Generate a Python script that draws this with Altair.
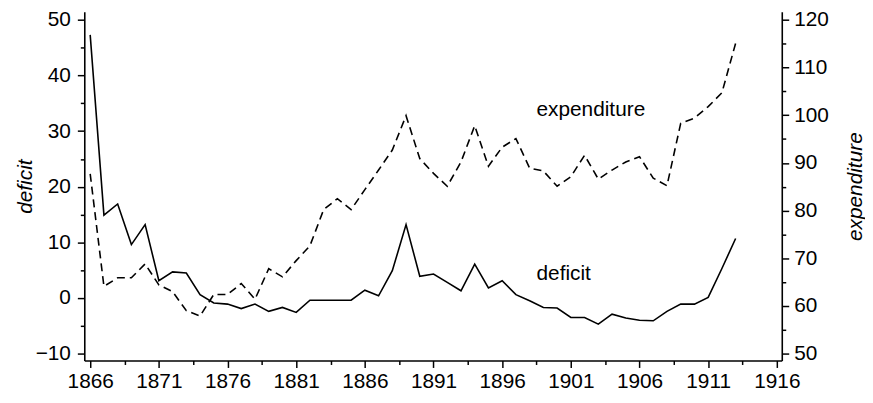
import altair as alt
import pandas as pd

# ---- data ----
years = list(range(1866, 1914))
deficit = [47.3, 14.9, 16.9, 9.6, 13.2, 3.1, 4.7, 4.5, 0.6, -0.9,
           -1.1, -1.9, -1.1, -2.4, -1.7, -2.6, -0.4, -0.4, -0.4, -0.4,
           1.4, 0.4, 4.9, 13.2, 3.9, 4.3, 2.8, 1.3, 6.1, 1.8,
           3.1, 0.6, -0.5, -1.7, -1.8, -3.5, -3.5, -4.7, -2.9, -3.6,
           -4.0, -4.1, -2.4, -1.1, -1.1, 0.1, 5.3, 10.7]
expenditure = [87.7, 64.1, 65.9, 65.9, 68.8, 64.4, 63.0, 59.0, 57.9, 62.4,
               62.4, 64.7, 61.4, 67.8, 66.1, 69.5, 72.6, 80.2, 82.5, 80.2,
               84.4, 88.5, 92.7, 99.9, 90.9, 87.8, 85.1, 90.2, 97.8, 89.3,
               93.3, 95.1, 88.9, 88.3, 85.1, 87.1, 91.6, 86.6, 88.5, 90.2,
               91.3, 86.8, 85.2, 98.3, 99.4, 101.8, 104.7, 115.1]

label_texts = ["expenditure", "deficit"]
label_years = [1898.5, 1898.5]
label_values = [32.8, 3.2]

x_ticks = [1866 + 2.5 * i for i in range(21)]
left_ticks = list(range(-10, 55, 5))
right_ticks = list(range(50, 125, 5))

df = pd.DataFrame({"year": years, "deficit": deficit, "expenditure": expenditure})
labels = pd.DataFrame({"text": label_texts, "year": label_years, "value": label_values})

FONT = "Liberation Sans"
FS = 21

x_scale = alt.Scale(domain=[1865.57, 1916.36], nice=False, zero=False)
left_scale = alt.Scale(domain=[-11.24, 51.46], nice=False, zero=False)
right_scale = alt.Scale(domain=[48.55, 121.70], nice=False, zero=False)

x_axis = alt.Axis(
    values=x_ticks,
    format="d",
    labelExpr="(datum.value - 1866) % 5 === 0 ? datum.label : ''",
    tickSize={"condition": {"test": "(datum.value - 1866) % 5 === 0", "value": 7}, "value": 4},
    labelPadding=3,
    title=None,
    labelOverlap=False,
    labelFlush=False,
)

left_axis = alt.Axis(
    orient="left",
    values=left_ticks,
    labelExpr="datum.value % 10 === 0 ? datum.label : ''",
    tickSize={"condition": {"test": "datum.value % 10 === 0", "value": 7}, "value": 4},
    labelPadding=7,
    title="deficit",
    titleFontStyle="italic",
    titleBaseline="alphabetic",
    titlePadding=4,
    labelOverlap=False,
    labelFlush=False,
)

right_axis = alt.Axis(
    orient="right",
    values=right_ticks,
    labelExpr="datum.value % 10 === 0 ? datum.label : ''",
    tickSize={"condition": {"test": "datum.value % 10 === 0", "value": 7}, "value": 4},
    labelPadding=5,
    title="expenditure",
    titleFontStyle="italic",
    titleAngle=270,
    titleBaseline="top",
    titlePadding=16,
    labelOverlap=False,
    labelFlush=False,
)

x_enc = alt.X("year:Q", scale=x_scale, axis=x_axis)

deficit_line = alt.Chart(df).mark_line(color="black", strokeWidth=1.6).encode(
    x=x_enc,
    y=alt.Y("deficit:Q", scale=left_scale, axis=left_axis),
)

texts = alt.Chart(labels).mark_text(
    font=FONT, fontSize=FS, align="left", baseline="alphabetic", color="black"
).encode(
    x=x_enc,
    y=alt.Y("value:Q", scale=left_scale, axis=left_axis),
    text="text:N",
)

left_group = alt.layer(deficit_line, texts)

exp_line = alt.Chart(df).mark_line(color="black", strokeWidth=1.6, strokeDash=[8, 5]).encode(
    x=x_enc,
    y=alt.Y("expenditure:Q", scale=right_scale, axis=right_axis),
)

chart = alt.layer(left_group, exp_line).resolve_scale(y="independent").properties(
    width=704,
    height=352,
    autosize=alt.AutoSizeParams(type="none"),
    padding={"left": 77, "top": 2, "right": 84, "bottom": 32},
).configure_view(stroke=None).configure_axis(
    domainColor="black",
    domainWidth=1.6,
    tickColor="black",
    tickWidth=1.5,
    labelColor="black",
    labelFont=FONT,
    labelFontSize=FS,
    titleFont=FONT,
    titleFontSize=FS,
    titleFontWeight="normal",
    titleColor="black",
    grid=False,
)

chart.save("out.html", embed_options={"renderer": "svg", "actions": False})
